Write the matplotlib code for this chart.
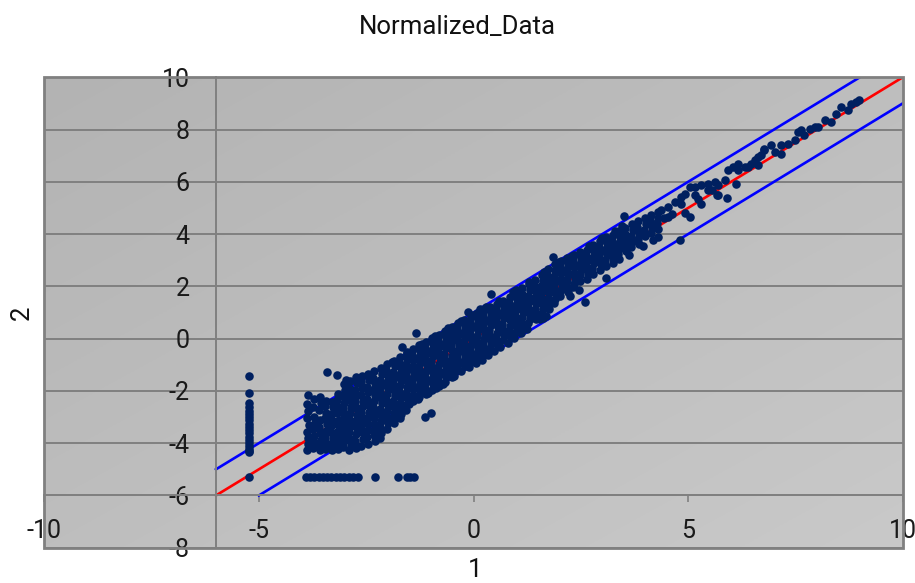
import numpy as np
import matplotlib
matplotlib.use("Agg")
import matplotlib.pyplot as plt
from matplotlib.colors import LinearSegmentedColormap
from matplotlib.patches import Rectangle

plt.rcParams['font.family'] = ['Roboto', 'DejaVu Sans']

# ---- data ----
# reference lines (fit y=x and +/-1 band)
fit_x = [-6, 10]
fit_y = [-6, 10]
upper_x = [-6, 9]
upper_y = [-5, 10]
lower_x = [-5, 10]
lower_y = [-6, 9]

# vertical stack of points at x ~ -5.22
stack_x = [-5.22, -5.22, -5.22, -5.22, -5.22, -5.22, -5.22, -5.22, -5.22, -5.22,
           -5.22, -5.22, -5.22, -5.22, -5.22, -5.22, -5.22, -5.22, -5.22, -5.22]
stack_y = [-1.42, -2.08, -2.47, -2.62, -2.75, -2.88, -3.0, -3.12, -3.25, -3.38,
           -3.5, -3.62, -3.75, -3.88, -4.0, -4.12, -4.22, -4.3, -4.33, -5.28]

# horizontal row of points at y ~ -5.28
floor_x = [-3.91, -3.81, -3.71, -3.61, -3.51, -3.41, -3.31, -3.21, -3.11, -3.01,
           -2.91, -2.81, -2.68, -2.29, -1.76, -1.56, -1.47, -1.38]
floor_y = [-5.28, -5.28, -5.28, -5.28, -5.28, -5.28, -5.28, -5.28, -5.28, -5.28,
           -5.28, -5.28, -5.28, -5.28, -5.28, -5.28, -5.28, -5.28]

# wide cluster on the left (x -3.9 .. -2.45)
left_x = [-3.86, -3.88, -3.85, -3.87, -3.84, -3.88, -3.86, -3.85, -3.87,
          -3.71, -3.74, -3.72, -3.70, -3.73, -3.72, -3.71, -3.74,
          -3.58, -3.56, -3.59, -3.57, -3.60, -3.58, -3.56, -3.59, -3.57,
          -3.44, -3.46, -3.43, -3.45, -3.42, -3.44, -3.46, -3.43, -3.45,
          -3.30, -3.28, -3.31, -3.29, -3.32, -3.30, -3.28, -3.31, -3.29,
          -3.16, -3.18, -3.15, -3.17, -3.14, -3.16, -3.18, -3.15, -3.17, -3.16,
          -3.02, -3.00, -3.03, -3.01, -3.04, -3.02, -3.00, -3.03, -3.01, -3.02, -3.04,
          -2.88, -2.90, -2.87, -2.89, -2.86, -2.88, -2.90, -2.87, -2.89, -2.88, -2.86, -2.89,
          -2.74, -2.72, -2.75, -2.73, -2.76, -2.74, -2.72, -2.75, -2.73, -2.74, -2.76, -2.73,
          -2.60, -2.62, -2.59, -2.61, -2.58, -2.60, -2.62, -2.59, -2.61, -2.60, -2.58, -2.61,
          -2.46, -2.44, -2.47, -2.45, -2.48, -2.46, -2.44, -2.47, -2.45, -2.46, -2.48, -2.45]
left_y = [-2.16, -2.52, -2.78, -3.04, -3.31, -3.56, -3.79, -4.04, -4.25,
          -2.32, -2.6, -2.98, -3.22, -3.47, -3.71, -3.96, -4.2,
          -2.22, -2.47, -2.73, -3.12, -3.38, -3.61, -3.86, -4.1, -4.26,
          -2.37, -2.58, -2.83, -3.02, -3.28, -3.54, -3.77, -4.01, -4.23,
          -2.42, -2.63, -2.88, -3.12, -3.36, -3.62, -3.83, -4.06, -4.26,
          -2.12, -2.36, -2.61, -2.86, -3.1, -3.32, -3.56, -3.8, -4.02, -4.24,
          -1.74, -1.97, -2.21, -2.46, -2.7, -2.94, -3.18, -3.42, -3.66, -3.9, -4.15,
          -1.63, -1.88, -2.11, -2.36, -2.6, -2.84, -3.08, -3.33, -3.58, -3.84, -4.08, -4.26,
          -1.47, -1.71, -1.95, -2.19, -2.44, -2.67, -2.91, -3.15, -3.4, -3.64, -3.9, -4.18,
          -1.43, -1.66, -1.9, -2.14, -2.39, -2.62, -2.86, -3.1, -3.35, -3.59, -3.84, -4.12,
          -1.36, -1.6, -1.84, -2.06, -2.31, -2.55, -2.79, -3.02, -3.26, -3.5, -3.76, -4.04]

# main band, left part (x -2.31 .. -0.51)
band1_x = [-2.31, -2.33, -2.30, -2.32, -2.29, -2.31, -2.33, -2.30, -2.32, -2.31, -2.29, -2.32, -2.30,
           -2.16, -2.14, -2.17, -2.15, -2.18, -2.16, -2.14, -2.17, -2.15, -2.16, -2.18, -2.15, -2.17,
           -2.01, -2.03, -2.00, -2.02, -1.99, -2.01, -2.03, -2.00, -2.02, -2.01, -1.99, -2.02,
           -1.86, -1.84, -1.87, -1.85, -1.88, -1.86, -1.84, -1.87, -1.85, -1.86, -1.88, -1.85,
           -1.71, -1.73, -1.70, -1.72, -1.69, -1.71, -1.73, -1.70, -1.72, -1.71, -1.69, -1.72,
           -1.56, -1.54, -1.57, -1.55, -1.58, -1.56, -1.54, -1.57, -1.55, -1.56, -1.58,
           -1.41, -1.43, -1.40, -1.42, -1.39, -1.41, -1.43, -1.40, -1.42, -1.41,
           -1.26, -1.24, -1.27, -1.25, -1.28, -1.26, -1.24, -1.27, -1.25, -1.26,
           -1.11, -1.13, -1.10, -1.12, -1.09, -1.11, -1.13, -1.10, -1.12, -1.11,
           -0.96, -0.94, -0.97, -0.95, -0.98, -0.96, -0.94, -0.97, -0.95, -0.96,
           -0.81, -0.83, -0.80, -0.82, -0.79, -0.81, -0.83, -0.80, -0.82, -0.81,
           -0.66, -0.64, -0.67, -0.65, -0.68, -0.66, -0.64, -0.67, -0.65, -0.66,
           -0.51, -0.53, -0.50, -0.52, -0.49, -0.51, -0.53, -0.50, -0.52, -0.51]
band1_y = [-1.25, -1.49, -1.7, -1.93, -2.15, -2.37, -2.6, -2.81, -3.03, -3.25, -3.47, -3.7, -3.92,
           -1.13, -1.36, -1.6, -1.81, -2.04, -2.26, -2.48, -2.71, -2.93, -3.16, -3.38, -3.6, -3.81,
           -0.98, -1.21, -1.43, -1.66, -1.88, -2.1, -2.33, -2.55, -2.78, -3.0, -3.23, -3.47,
           -0.84, -1.06, -1.29, -1.5, -1.73, -1.95, -2.18, -2.4, -2.63, -2.85, -3.06, -3.22,
           -0.69, -0.91, -1.13, -1.35, -1.57, -1.79, -2.01, -2.23, -2.45, -2.67, -2.88, -3.02,
           -0.53, -0.75, -0.97, -1.19, -1.41, -1.63, -1.85, -2.07, -2.29, -2.51, -2.73,
           -0.38, -0.61, -0.83, -1.05, -1.27, -1.49, -1.71, -1.93, -2.15, -2.37,
           -0.26, -0.48, -0.7, -0.93, -1.15, -1.37, -1.59, -1.81, -2.03, -2.25,
           -0.13, -0.35, -0.57, -0.79, -1.01, -1.23, -1.45, -1.67, -1.89, -2.1,
           0.01, -0.21, -0.43, -0.65, -0.87, -1.09, -1.31, -1.53, -1.75, -1.96,
           0.14, -0.08, -0.31, -0.53, -0.75, -0.97, -1.19, -1.41, -1.63, -1.82,
           0.29, 0.07, -0.15, -0.37, -0.59, -0.81, -1.03, -1.25, -1.47, -1.65,
           0.45, 0.23, 0.0, -0.22, -0.44, -0.66, -0.88, -1.1, -1.32, -1.46]

# main band, middle part (x -0.36 .. 1.89)
band2_x = [-0.36, -0.38, -0.35, -0.37, -0.34, -0.36, -0.38, -0.35, -0.37,
           -0.21, -0.19, -0.22, -0.20, -0.23, -0.21, -0.19, -0.22, -0.20,
           -0.06, -0.08, -0.05, -0.07, -0.04, -0.06, -0.08, -0.05, -0.07,
           0.09, 0.11, 0.08, 0.10, 0.07, 0.09, 0.11, 0.08, 0.10,
           0.24, 0.22, 0.25, 0.23, 0.26, 0.24, 0.22, 0.25, 0.23,
           0.39, 0.41, 0.38, 0.40, 0.37, 0.39, 0.41, 0.38,
           0.54, 0.52, 0.55, 0.53, 0.56, 0.54, 0.52, 0.55,
           0.69, 0.71, 0.68, 0.70, 0.67, 0.69, 0.71, 0.68,
           0.84, 0.82, 0.85, 0.83, 0.86, 0.84, 0.82, 0.85,
           0.99, 1.01, 0.98, 1.00, 0.97, 0.99, 1.01, 0.98,
           1.14, 1.12, 1.15, 1.13, 1.16, 1.14, 1.12, 1.15,
           1.29, 1.31, 1.28, 1.30, 1.27, 1.29, 1.31, 1.28,
           1.44, 1.42, 1.45, 1.43, 1.46, 1.44, 1.42, 1.45,
           1.59, 1.61, 1.58, 1.60, 1.57, 1.59, 1.61, 1.58,
           1.74, 1.72, 1.75, 1.73, 1.76, 1.74, 1.72, 1.75,
           1.89, 1.91, 1.88, 1.90, 1.87, 1.89, 1.91, 1.88]
band2_y = [0.58, 0.37, 0.13, -0.09, -0.3, -0.53, -0.74, -0.97, -1.19,
           0.7, 0.47, 0.27, 0.03, -0.19, -0.4, -0.63, -0.84, -1.06,
           0.84, 0.63, 0.39, 0.18, -0.05, -0.26, -0.49, -0.7, -0.9,
           0.97, 0.76, 0.53, 0.32, 0.09, -0.12, -0.35, -0.56, -0.76,
           1.08, 0.86, 0.63, 0.42, 0.19, -0.02, -0.25, -0.45, -0.58,
           1.2, 0.97, 0.76, 0.53, 0.32, 0.09, -0.12, -0.35,
           1.32, 1.1, 0.87, 0.66, 0.43, 0.22, -0.01, -0.2,
           1.45, 1.22, 1.01, 0.78, 0.57, 0.34, 0.13, -0.06,
           1.6, 1.37, 1.16, 0.93, 0.72, 0.49, 0.28, 0.1,
           1.75, 1.53, 1.3, 1.09, 0.86, 0.65, 0.42, 0.25,
           1.92, 1.69, 1.48, 1.25, 1.04, 0.81, 0.6, 0.42,
           2.08, 1.86, 1.63, 1.42, 1.19, 0.98, 0.76, 0.6,
           2.25, 2.02, 1.81, 1.58, 1.37, 1.14, 0.93, 0.76,
           2.45, 2.22, 2.01, 1.78, 1.57, 1.34, 1.13, 0.95,
           2.65, 2.42, 2.21, 1.98, 1.77, 1.54, 1.33, 1.15,
           2.84, 2.61, 2.4, 2.17, 1.96, 1.73, 1.52, 1.36]

# main band, right part (x 2.04 .. 4.29)
band3_x = [2.04, 2.02, 2.05, 2.03, 2.06, 2.04, 2.02,
           2.19, 2.21, 2.18, 2.20, 2.17, 2.19, 2.21,
           2.34, 2.32, 2.35, 2.33, 2.36, 2.34, 2.32,
           2.49, 2.51, 2.48, 2.50, 2.47, 2.49,
           2.64, 2.62, 2.65, 2.63, 2.66, 2.64,
           2.79, 2.81, 2.78, 2.80, 2.77, 2.79,
           2.94, 2.92, 2.95, 2.93, 2.96, 2.94,
           3.09, 3.11, 3.08, 3.10, 3.07, 3.09,
           3.24, 3.22, 3.25, 3.23, 3.26, 3.24,
           3.39, 3.41, 3.38, 3.40, 3.37, 3.39,
           3.54, 3.52, 3.55, 3.53, 3.56,
           3.69, 3.71, 3.68, 3.70, 3.67,
           3.84, 3.82, 3.85, 3.83, 3.86,
           3.99, 4.01, 3.98, 4.00,
           4.14, 4.12, 4.15, 4.13,
           4.29, 4.31, 4.28, 4.30]
band3_y = [2.97, 2.74, 2.53, 2.3, 2.09, 1.86, 1.65,
           3.1, 2.87, 2.66, 2.43, 2.22, 1.99, 1.78,
           3.2, 2.97, 2.76, 2.53, 2.32, 2.09, 1.96,
           3.3, 3.07, 2.86, 2.63, 2.42, 2.2,
           3.4, 3.17, 2.96, 2.73, 2.52, 2.3,
           3.58, 3.35, 3.14, 2.91, 2.7, 2.48,
           3.74, 3.51, 3.3, 3.07, 2.86, 2.64,
           3.88, 3.65, 3.44, 3.21, 3.0, 2.78,
           3.98, 3.75, 3.54, 3.31, 3.1, 2.9,
           4.1, 3.87, 3.66, 3.43, 3.22, 3.06,
           4.24, 4.01, 3.8, 3.57, 3.36,
           4.38, 4.15, 3.94, 3.71, 3.5,
           4.5, 4.27, 4.06, 3.83, 3.62,
           4.6, 4.37, 4.16, 3.94,
           4.72, 4.49, 4.28, 4.06,
           4.85, 4.62, 4.41, 4.19]

# ragged points along the edges of the band
edge_x = [-1.50, -1.30, -1.05, -0.88, -0.70, -0.45, -0.28, -0.10, 0.05, 0.20,
          0.33, 0.48, 0.62, 0.80, 0.95, 1.10, 1.25, 1.55, 1.70, 2.25, 2.45,
          -1.90, -1.55, -1.20, -0.90, -0.60, -0.30, -0.02, 0.30, 0.60, 1.00,
          1.30, 1.65, 2.00, 2.30, 2.70, 3.00, 3.30, 3.45, 3.62, 3.95, 4.18]
edge_y = [-2.50, -2.30, -2.07, -1.90, -1.72, -1.42, -1.25, -1.08, -0.95, -0.80,
          -0.62, -0.48, -0.33, -0.15, 0.02, 0.20, 0.35, 0.75, 0.85, 1.62, 1.85,
          -0.90, -0.55, -0.22, 0.10, 0.40, 0.68, 0.92, 1.20, 1.45, 1.85,
          2.15, 2.55, 2.95, 3.15, 3.55, 3.85, 4.10, 4.30, 3.20, 3.55, 3.78]

# sparse upper tail (x 4 .. 9)
tail_x = [4.07, 4.22, 4.38, 4.54, 4.69, 4.84, 4.92, 5.04, 5.16, 5.31, 5.47, 5.62,
          5.70, 5.85, 5.93, 6.05, 6.16, 6.32, 6.47, 6.55, 6.63, 6.71, 6.78, 6.94,
          7.02, 7.17, 7.17, 7.33, 7.48, 7.56, 7.64, 7.71, 7.83, 7.95, 8.02, 8.18,
          8.33, 8.45, 8.57, 8.72, 8.80, 8.91, 8.99,
          4.30, 4.19, 4.54, 4.92, 5.04, 5.31, 5.16, 5.70, 6.12, 6.16, 6.63, 6.78,
          4.84, 5.47, 4.45, 4.62, 5.22, 5.55, 6.40]
tail_y = [4.53, 4.40, 4.91, 5.04, 5.23, 5.42, 5.55, 5.81, 5.81, 5.87, 5.93, 5.99,
          5.87, 6.06, 6.44, 6.57, 6.70, 6.57, 6.70, 6.82, 6.95, 7.02, 7.27, 7.40,
          7.14, 7.40, 7.08, 7.46, 7.59, 7.91, 7.97, 7.78, 8.03, 8.10, 8.10, 8.35,
          8.29, 8.61, 8.86, 8.74, 8.99, 9.05, 9.12,
          3.89, 4.28, 4.66, 4.79, 4.66, 5.17, 5.49, 5.49, 5.93, 6.44, 6.63, 7.21,
          5.17, 5.68, 4.62, 4.78, 5.35, 5.7, 6.55]

# stray points away from the band
out_x = [-3.42, -3.19, -1.67, -1.33, -1.12, -0.98, -0.12, 0.16, 0.40, 0.93,
         1.85, 1.61, 2.60, 3.09, 3.51, 4.82, 5.68, 5.90, -2.98]
out_y = [-1.28, -1.39, -0.32, 0.20, -2.99, -2.86, 1.01, 1.13, 1.71, 1.79,
         3.13, 0.78, 1.39, 2.31, 4.70, 3.77, 5.50, 5.37, -1.58]

# axis ticks
x_ticks = [-10, -5, 0, 5, 10]
y_ticks = [-8, -6, -4, -2, 0, 2, 4, 6, 8, 10]

# ---- figure ----
W, H = 915, 583
fig = plt.figure(figsize=(W / 100, H / 100), dpi=100)
ax = fig.add_axes([44.3 / W, 1 - 547.7 / H, 858.4 / W, 470.4 / H])

# gradient plot-area fill (slightly darker top-left)
grad = np.add.outer(np.linspace(0, 1, 200), np.linspace(0, 1, 200)) / 2
cmap = LinearSegmentedColormap.from_list('bg', ['#b3b3b3', '#c9c9c9'])
ax.imshow(grad, extent=[-10, 10, -8, 10], origin='upper', aspect='auto',
          cmap=cmap, zorder=0, interpolation='bilinear')

ax.set_xlim(-10, 10)
ax.set_ylim(-8, 10)

grid_c = '#808080'
for yv in y_ticks:
    ax.axhline(yv, color=grid_c, lw=1.4, zorder=1)

# axes cross at (-6, -6), Excel style
for s in ['top', 'right']:
    ax.spines[s].set_visible(False)
ax.spines['left'].set_position(('data', -6))
ax.spines['bottom'].set_position(('data', -6))
for s in ['left', 'bottom']:
    ax.spines[s].set_color(grid_c)
    ax.spines[s].set_linewidth(1.4)
ax.add_patch(Rectangle((0, 0), 1, 1, transform=ax.transAxes, fill=False,
                       edgecolor=grid_c, lw=2.0, zorder=6, clip_on=False))

ax.set_xticks(x_ticks)
ax.set_yticks(y_ticks)
ax.set_xticklabels([str(v) for v in x_ticks])
ax.set_yticklabels([str(v) for v in y_ticks])
ax.tick_params(axis='x', direction='out', length=5, width=1.2, color=grid_c,
               labelsize=18, pad=12, labelcolor='#1a1a1a')
ax.tick_params(axis='y', length=0, labelsize=18, pad=19, labelcolor='#1a1a1a')

# reference lines
ax.plot(fit_x, fit_y, color='#ff0000', lw=1.9, zorder=2)
ax.plot(upper_x, upper_y, color='#0000ff', lw=1.9, zorder=2)
ax.plot(lower_x, lower_y, color='#0000ff', lw=1.9, zorder=2)

# data points
pt_c = '#002060'
for xs, ys in [(stack_x, stack_y), (floor_x, floor_y), (left_x, left_y),
               (band1_x, band1_y), (band2_x, band2_y), (band3_x, band3_y),
               (edge_x, edge_y), (tail_x, tail_y), (out_x, out_y)]:
    ax.scatter(xs, ys, s=38, color=pt_c, linewidths=0, zorder=3)

fig.text(457 / W, 1 - 27 / H, 'Normalized_Data', ha='center', va='center',
         fontsize=18.5, color='#111111')
fig.text(475 / W, 1 - 570 / H, '1', ha='center', va='center', fontsize=18.5,
         color='#111111')
fig.text(22 / W, 1 - 313 / H, '2', ha='center', va='center', rotation=90,
         fontsize=18.5, color='#111111')

fig.savefig('out.png', dpi=100)
